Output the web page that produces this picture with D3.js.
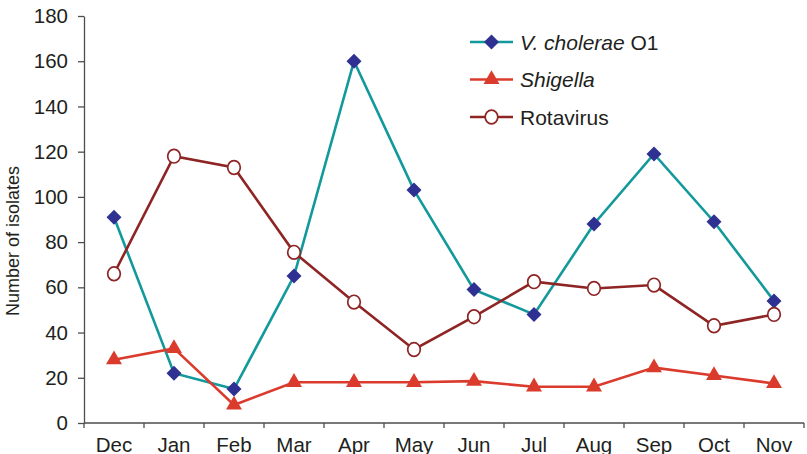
<!DOCTYPE html>
<html>
<head>
<meta charset="utf-8">
<script src="https://cdn.jsdelivr.net/npm/d3@7"></script>
<style>
  html, body { margin: 0; padding: 0; background: #fff; }
  svg { display: block; font-family: "Liberation Sans", Arial, sans-serif; }
</style>
</head>
<body>
<svg id="chart" width="807" height="454"></svg>
<script>
// Monthly isolates by pathogen
const months = ["Dec", "Jan", "Feb", "Mar", "Apr", "May", "Jun", "Jul", "Aug", "Sep", "Oct", "Nov"];
const choleraeValues = [91, 22, 15, 65, 160, 103, 59, 48, 88, 119, 89, 54];
const shigellaValues = [28, 33, 8, 18, 18, 18, 18.5, 16, 16, 24.5, 21, 17.5];
const rotavirusValues = [66, 118, 113, 75.5, 53.5, 32.5, 47, 62.5, 59.5, 61, 43, 48];
const yTicks = [0, 20, 40, 60, 80, 100, 120, 140, 160, 180];

const series = [
  { name: "cholerae", values: choleraeValues, line: "#13999b", marker: "diamond" },
  { name: "shigella", values: shigellaValues, line: "#db3b2d", marker: "triangle" },
  { name: "rotavirus", values: rotavirusValues, line: "#8e2424", marker: "circle" }
];

const svg = d3.select("#chart");
const plot = { left: 84, right: 804, top: 16, bottom: 423 };

const x = d3.scaleBand().domain(months).range([plot.left, plot.right]);
const y = d3.scaleLinear().domain([0, 180]).range([plot.bottom, plot.top]);

const axisColor = "#4d4d4d";

// Y axis
const yAxis = svg.append("g")
  .attr("transform", `translate(${plot.left},0)`)
  .call(d3.axisLeft(y).tickValues(yTicks).tickSize(6).tickPadding(10).tickSizeOuter(0));
yAxis.select(".domain").attr("stroke", axisColor).attr("stroke-width", 1.3);
yAxis.selectAll(".tick line").attr("stroke", axisColor).attr("stroke-width", 1.3);
yAxis.selectAll(".tick text").attr("font-size", 20.5).attr("fill", "#231f20")
  .attr("font-family", "Liberation Sans, Arial, sans-serif");

// X axis: ticks at band edges, labels centered
const xAxis = svg.append("g").attr("transform", `translate(0,${plot.bottom})`);
xAxis.append("line").attr("x1", plot.left).attr("x2", plot.right).attr("y1", 0).attr("y2", 0)
  .attr("stroke", axisColor).attr("stroke-width", 1.3);
const edges = months.map(m => x(m)).concat([x(months[months.length - 1]) + x.bandwidth()]);
xAxis.selectAll("line.edge").data(edges).enter().append("line")
  .attr("class", "edge")
  .attr("x1", d => d).attr("x2", d => d).attr("y1", 0).attr("y2", 5)
  .attr("stroke", axisColor).attr("stroke-width", 1.3);
xAxis.selectAll("text").data(months).enter().append("text")
  .attr("x", d => x(d) + x.bandwidth() / 2)
  .attr("y", 28.5)
  .attr("text-anchor", "middle")
  .attr("font-size", 20.5)
  .attr("fill", "#231f20")
  .text(d => d);

// Y axis title
svg.append("text")
  .attr("transform", "translate(19,241) rotate(-90)")
  .attr("text-anchor", "middle")
  .attr("font-size", 18)
  .attr("fill", "#231f20")
  .text("Number of isolates");

const cx = (d, i) => x(months[i]) + x.bandwidth() / 2;

function drawMarker(g, type, color, px, py) {
  if (type === "diamond") {
    g.append("path").attr("d", d3.symbol(d3.symbolSquare, 112)())
      .attr("transform", `translate(${px},${py}) rotate(45)`)
      .attr("fill", "#2e3192");
  } else if (type === "triangle") {
    g.append("path").attr("d", d3.symbol(d3.symbolTriangle, 110)())
      .attr("transform", `translate(${px},${py})`)
      .attr("fill", "#db3b2d");
  } else {
    g.append("ellipse").attr("cx", px).attr("cy", py).attr("rx", 6.3).attr("ry", 6.8)
      .attr("fill", "#fff").attr("stroke", color).attr("stroke-width", 1.7);
  }
}

// Lines then markers
const line = d3.line().x((d, i) => cx(d, i)).y(d => y(d));
series.forEach(s => {
  svg.append("path").datum(s.values)
    .attr("d", line)
    .attr("fill", "none")
    .attr("stroke", s.line)
    .attr("stroke-width", 2.6);
});
series.forEach(s => {
  const g = svg.append("g");
  s.values.forEach((v, i) => drawMarker(g, s.marker, s.line, cx(v, i), y(v)));
});

// Legend
const legend = svg.append("g");
const legendItems = [
  { s: series[0], parts: [["V. cholerae", true], [" O1", false]] },
  { s: series[1], parts: [["Shigella", true]] },
  { s: series[2], parts: [["Rotavirus", false]] }
];
legendItems.forEach((item, k) => {
  const ly = 42 + k * 37.5;
  legend.append("line").attr("x1", 470).attr("x2", 513).attr("y1", ly).attr("y2", ly)
    .attr("stroke", item.s.line).attr("stroke-width", 2.6);
  drawMarker(legend, item.s.marker, item.s.line, 491.5, ly);
  const t = legend.append("text").attr("x", 520).attr("y", ly + 7.5)
    .attr("font-size", 21).attr("fill", "#231f20");
  item.parts.forEach(([txt, it]) => {
    t.append("tspan").attr("font-style", it ? "italic" : "normal").text(txt);
  });
});
</script>
</body>
</html>
